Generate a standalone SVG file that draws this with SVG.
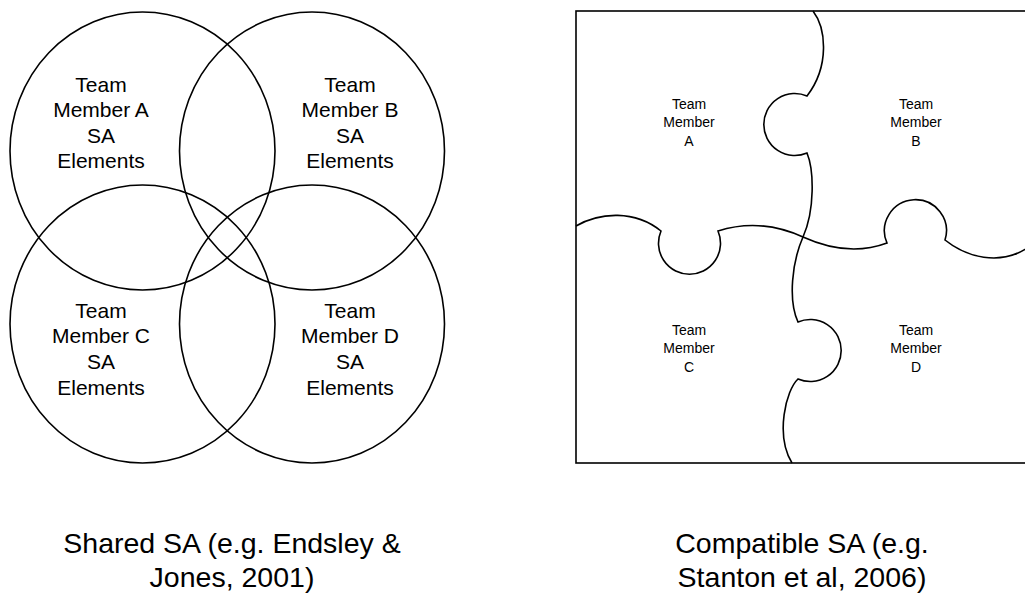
<svg xmlns="http://www.w3.org/2000/svg" width="1025" height="609" viewBox="0 0 1025 609">
<style>
.ln{fill:none;stroke:#000;stroke-width:1.6}
.t{font-family:"Liberation Sans",Arial,sans-serif;fill:#000;text-anchor:middle}
.c{font-size:21px}
.p{font-size:14px}
.cap{font-size:28.5px}
</style>
<rect width="1025" height="609" fill="#fff"/>
<g id="shared">
<g id="circleA"><ellipse class="ln" cx="142.5" cy="151" rx="132.5" ry="139"/>
<text class="t c" x="101"><tspan x="101" y="92">Team</tspan><tspan x="101" y="117">Member A</tspan><tspan x="101" y="143">SA</tspan><tspan x="101" y="168">Elements</tspan></text></g>
<g id="circleB"><ellipse class="ln" cx="312" cy="151" rx="132.5" ry="139"/>
<text class="t c" x="350"><tspan x="350" y="92">Team</tspan><tspan x="350" y="117">Member B</tspan><tspan x="350" y="143">SA</tspan><tspan x="350" y="168">Elements</tspan></text></g>
<g id="circleC"><ellipse class="ln" cx="142.5" cy="324" rx="132.5" ry="139"/>
<text class="t c" x="101"><tspan x="101" y="318">Team</tspan><tspan x="101" y="343">Member C</tspan><tspan x="101" y="369">SA</tspan><tspan x="101" y="395">Elements</tspan></text></g>
<g id="circleD"><ellipse class="ln" cx="312" cy="324" rx="132.5" ry="139"/>
<text class="t c" x="350"><tspan x="350" y="318">Team</tspan><tspan x="350" y="343">Member D</tspan><tspan x="350" y="369">SA</tspan><tspan x="350" y="395">Elements</tspan></text></g>
<text class="t cap" x="232"><tspan x="232" y="553">Shared SA (e.g. Endsley &amp;</tspan><tspan x="232" y="587">Jones, 2001)</tspan></text>
</g>
<g id="compatible">
<rect class="ln" x="576" y="11" width="460" height="452"/>
<g id="seams">
<path class="ln" d="M813,11 C826,28 830,66 807,96 A31,31 0 1 0 807,153 C814,170 815,210 803,237 C792,262 788,300 798,322 A31,31 0 1 1 798,379 C786,390 775,435 792,463"/>
<path class="ln" d="M576,226 C600,212 635,210 661,231 A31,31 0 1 0 718,231 C740,224 770,222 803,237 C825,247 855,255 887,243 A31,31 0 1 1 945,240 C965,256 1000,268 1030,246"/>
</g>
<g id="pieceA"><text class="t p"><tspan x="689" y="109">Team</tspan><tspan x="689" y="127">Member</tspan><tspan x="689" y="146">A</tspan></text></g>
<g id="pieceB"><text class="t p"><tspan x="916" y="109">Team</tspan><tspan x="916" y="127">Member</tspan><tspan x="916" y="146">B</tspan></text></g>
<g id="pieceC"><text class="t p"><tspan x="689" y="335">Team</tspan><tspan x="689" y="353">Member</tspan><tspan x="689" y="372">C</tspan></text></g>
<g id="pieceD"><text class="t p"><tspan x="916" y="335">Team</tspan><tspan x="916" y="353">Member</tspan><tspan x="916" y="372">D</tspan></text></g>
<text class="t cap" x="802"><tspan x="802" y="553">Compatible SA (e.g.</tspan><tspan x="802" y="587">Stanton et al, 2006)</tspan></text>
</g>
</svg>
